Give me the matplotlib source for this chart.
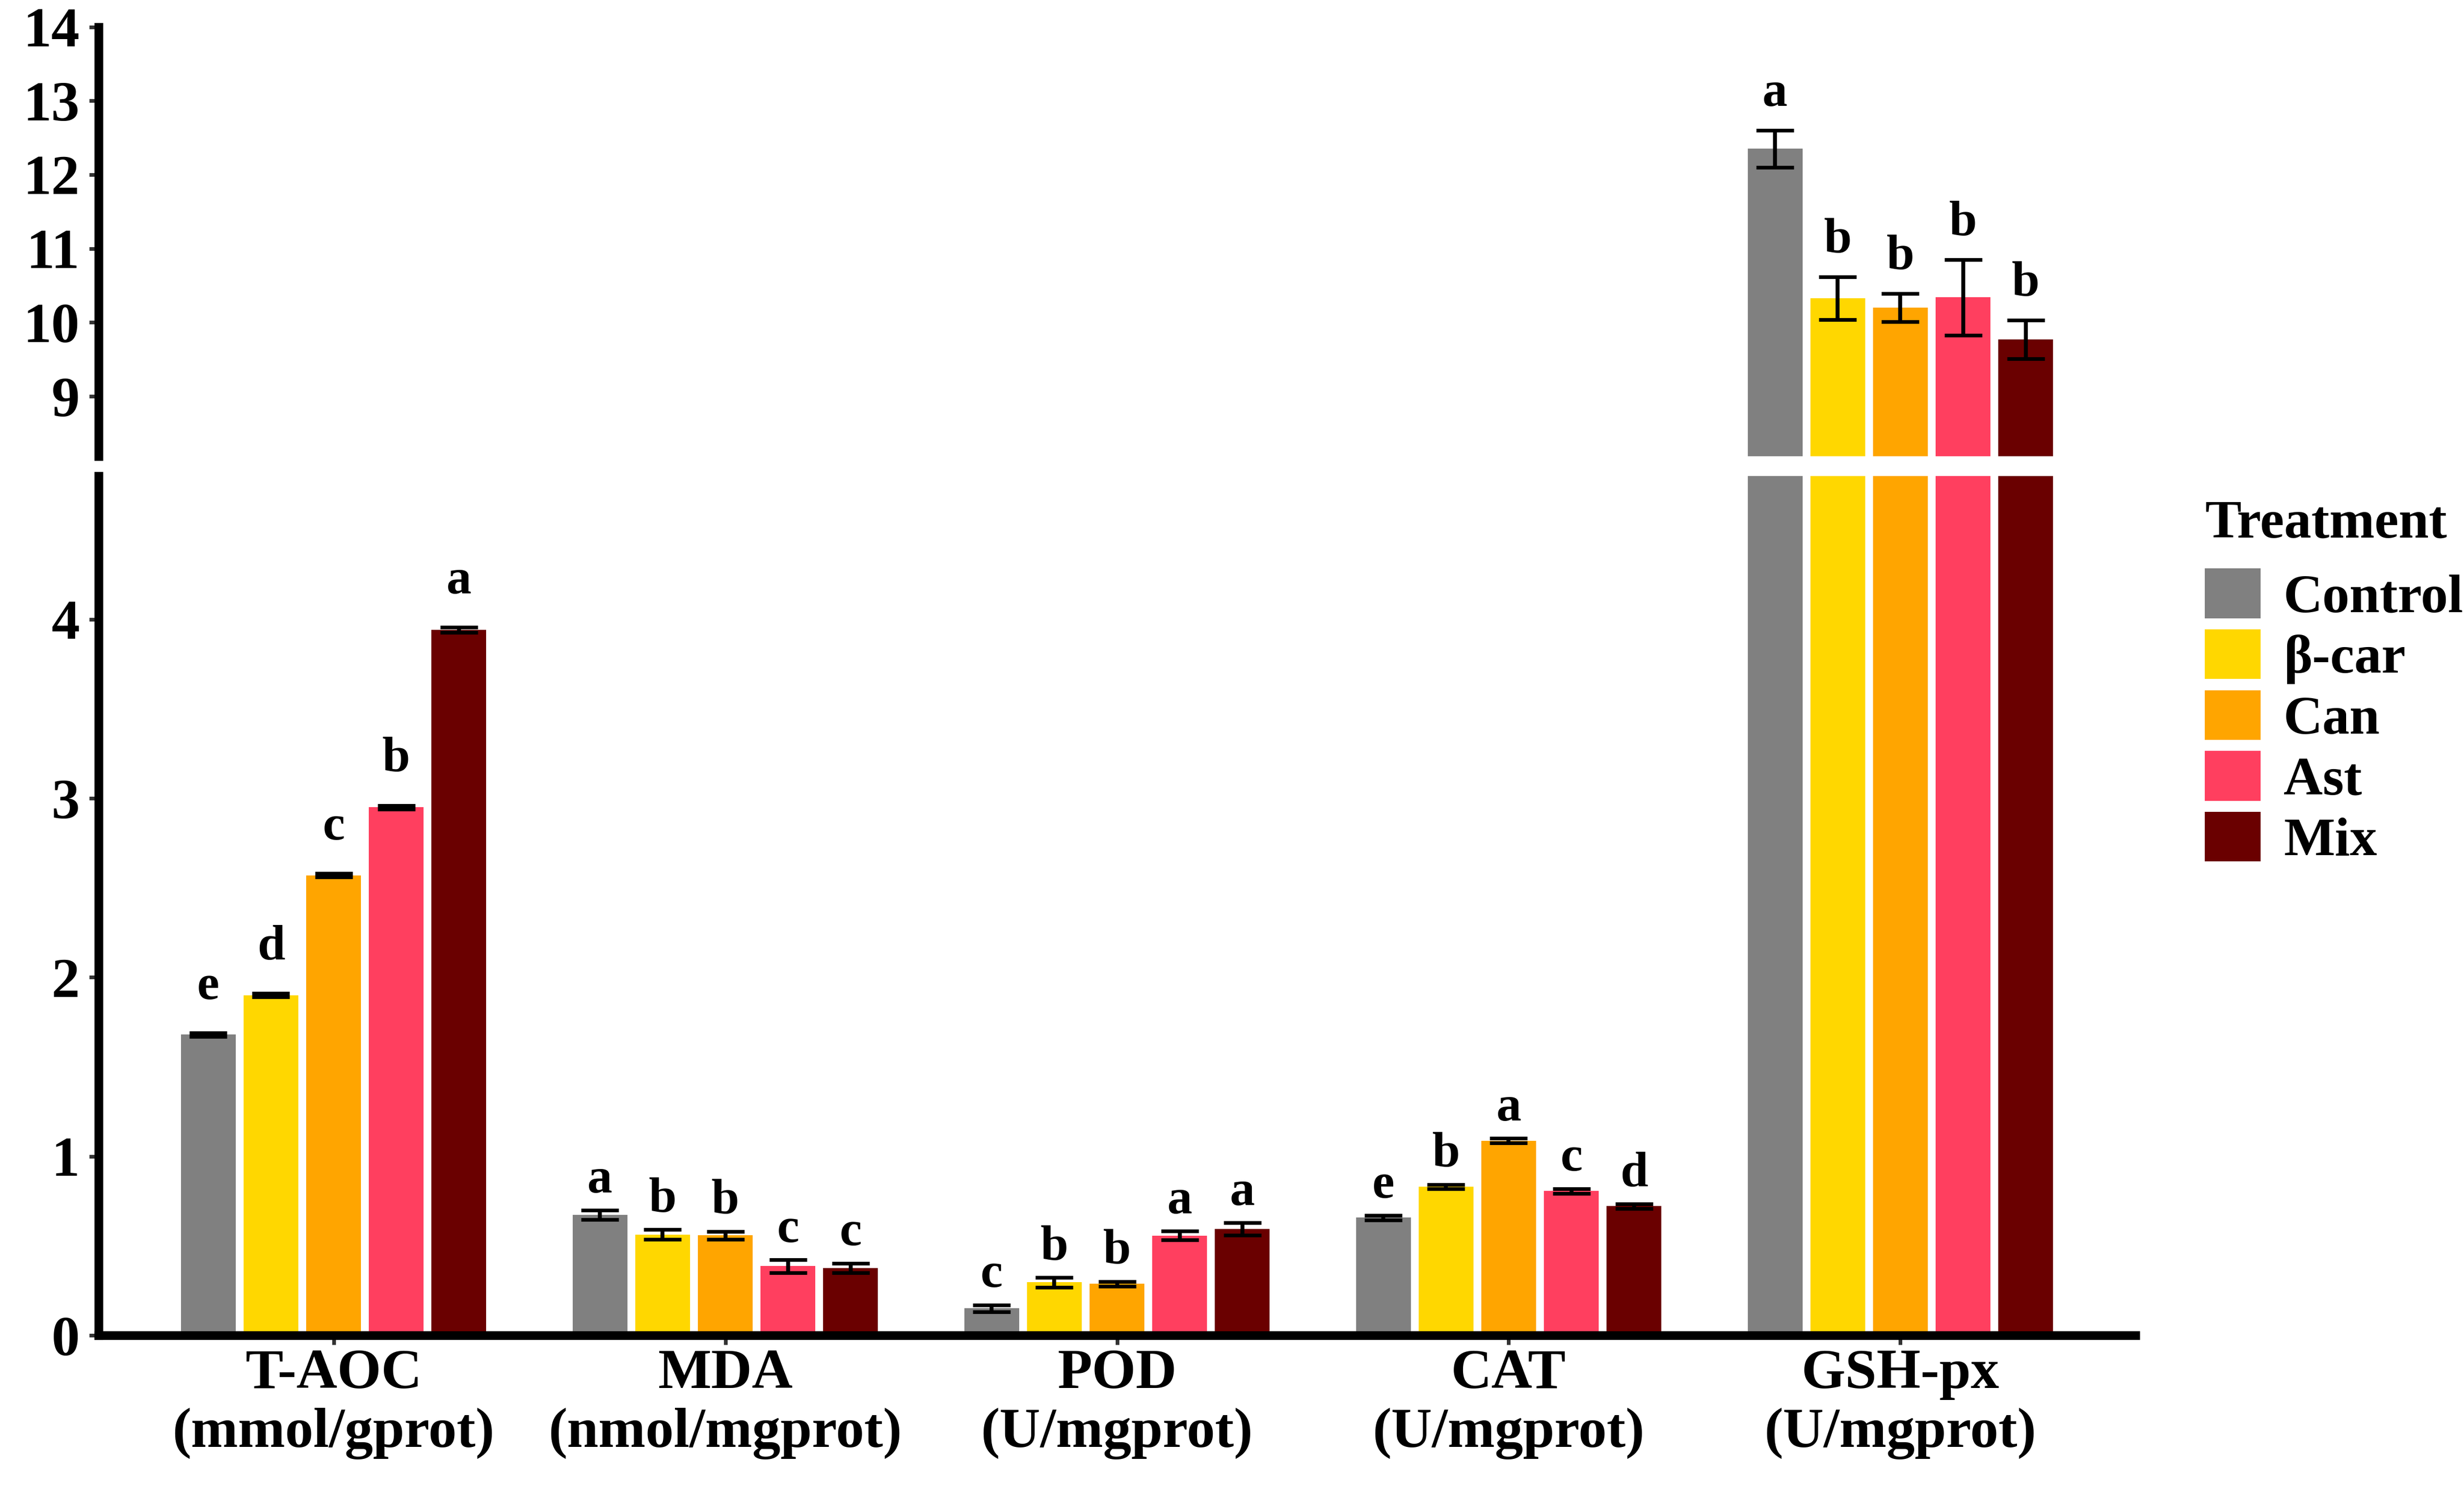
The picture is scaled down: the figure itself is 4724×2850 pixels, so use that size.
import numpy as np
import matplotlib
matplotlib.use("Agg")
import matplotlib.pyplot as plt
from matplotlib.patches import Patch

plt.rcParams["font.family"] = ["Liberation Serif", "DejaVu Serif"]
plt.rcParams["font.weight"] = "bold"

# groups on the x axis
grupos = ["T-AOC\n(mmol/gprot)", "MDA\n(nmol/mgprot)", "POD\n(U/mgprot)",
          "CAT\n(U/mgprot)", "GSH-px\n(U/mgprot)"]
tratamentos = ["Control", "β-car", "Can", "Ast", "Mix"]
cores = ["#808080", "#FFD700", "#FFA500", "#FF3F5F", "#6A0000"]

# means and standard errors, one list per indicator (order = tratamentos)
taoc = [1.68, 1.90, 2.57, 2.95, 3.94]
taoc_se = [0.01, 0.01, 0.01, 0.01, 0.015]
mda = [0.672, 0.563, 0.559, 0.386, 0.376]
mda_se = [0.026, 0.027, 0.022, 0.036, 0.027]
pod = [0.151, 0.296, 0.288, 0.557, 0.593]
pod_se = [0.019, 0.027, 0.013, 0.025, 0.035]
cat = [0.657, 0.830, 1.087, 0.806, 0.721]
cat_se = [0.012, 0.013, 0.013, 0.013, 0.013]
gsh = [12.35, 10.33, 10.20, 10.34, 9.77]
gsh_se = [0.25, 0.29, 0.19, 0.51, 0.26]

# significance letters
taoc_let = ["e", "d", "c", "b", "a"]
mda_let = ["a", "b", "b", "c", "c"]
pod_let = ["c", "b", "b", "a", "a"]
cat_let = ["e", "b", "a", "c", "d"]
gsh_let = ["a", "b", "b", "b", "b"]

medias = [taoc, mda, pod, cat, gsh]
erros = [taoc_se, mda_se, pod_se, cat_se, gsh_se]
letras = [taoc_let, mda_let, pod_let, cat_let, gsh_let]
# distancia da letra ao topo do erro (unidades do painel)
desloc = [0.19, 0.10, 0.10, 0.10, 0.33]

W, H = 4724, 2850
fig = plt.figure(figsize=(W / 300, H / 300), dpi=300)

esq = 189 / W
larg = (4094 - 189) / W
ax_baixo = fig.add_axes([esq, 1 - 2561 / H, larg, (2561 - 913) / H])
ax_cima = fig.add_axes([esq, 1 - 875 / H, larg, (875 - 51.5) / H])

ax_baixo.set_ylim(0, 4.8)
ax_cima.set_ylim(8.19, 14)

x = np.arange(1, len(grupos) + 1)
passo = 0.16
largura = 0.14

for ax in (ax_cima, ax_baixo):
    for j, trat in enumerate(tratamentos):
        pos = x + (j - 2) * passo
        vals = [m[j] for m in medias]
        ses = [e[j] for e in erros]
        ax.bar(pos, vals, width=largura, color=cores[j], label=trat, zorder=2)
        ax.errorbar(pos, vals, yerr=ses, fmt="none", ecolor="black",
                    elinewidth=1.8, capsize=8.6, capthick=1.7, zorder=3)
    ax.set_xlim(0.4, 5.6)
    for s in ("top", "right"):
        ax.spines[s].set_visible(False)
    ax.spines["left"].set_linewidth(4)
    ax.spines["bottom"].set_linewidth(4)
    ax.tick_params(axis="both", length=4.3, width=1.7, color="#333333",
                   labelsize=26, pad=4.4)

# letras
for i in range(len(grupos)):
    for j in range(len(tratamentos)):
        topo = medias[i][j] + erros[i][j]
        ax = ax_cima if topo > 4.8 else ax_baixo
        ax.text(x[i] + (j - 2) * passo, topo + desloc[i], letras[i][j],
                ha="center", va="baseline", fontsize=23, fontweight="bold")

ax_cima.spines["bottom"].set_visible(False)
ax_cima.set_xticks([])
ax_cima.set_yticks([9, 10, 11, 12, 13, 14])

ax_baixo.set_yticks([0, 1, 2, 3, 4])
ax_baixo.set_xticks(x)
ax_baixo.set_xticklabels(grupos)
ax_baixo.tick_params(axis="x", pad=2)

handles = [Patch(facecolor=c, label=t) for c, t in zip(cores, tratamentos)]
leg = fig.legend(handles=handles, title="Treatment", loc="upper left",
                 bbox_to_anchor=(4227 / W, 1 - 958 / H), frameon=False,
                 fontsize=25, title_fontsize=25, handlelength=1.03,
                 handleheight=1.03, labelspacing=0.11, handletextpad=0.42,
                 borderpad=0, borderaxespad=0, alignment="left")
# espaco extra entre o titulo e as caixas
leg._legend_box.sep = 9.2

fig.savefig("out.png", dpi=300)
